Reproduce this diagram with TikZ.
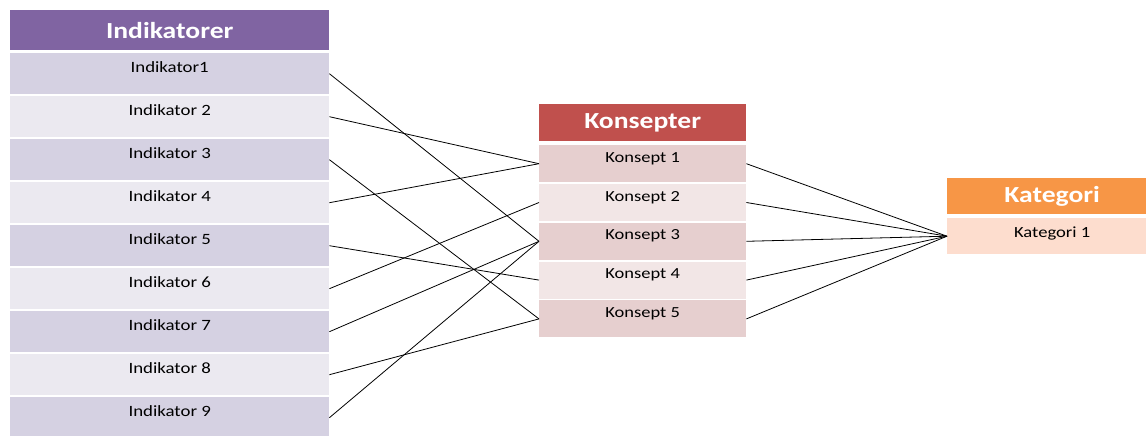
\documentclass[tikz,border=0pt]{standalone}
\usepackage{graphicx}
\usepackage{fontspec}
\setmainfont{Carlito}
% widened lettering used in every box
\newcommand\widetext[1]{\scalebox{1.2}[1]{#1}}
\definecolor{indhead}{HTML}{8064A2}
\definecolor{inddark}{RGB}{213,209,226}
\definecolor{indlight}{RGB}{235,233,240}
\definecolor{konhead}{HTML}{C0504D}
\definecolor{kondark}{RGB}{230,207,207}
\definecolor{konlight}{RGB}{242,230,230}
\definecolor{kathead}{HTML}{F79646}
\definecolor{katrow}{RGB}{253,221,206}
\tikzset{
  headbox/.style={anchor=north west, inner sep=0pt, text=white,
    font=\fontsize{23}{26}\selectfont\bfseries},
  indrow/.style={anchor=north west, inner sep=0pt, minimum width=319pt,
    text height=19pt, text depth=22pt, font=\fontsize{15.7}{18}\selectfont},
  konrow/.style={anchor=north west, inner sep=0pt, minimum width=207pt,
    text height=17pt, text depth=20pt, font=\fontsize{15.4}{18}\selectfont},
  katrow/.style={anchor=north west, inner sep=0pt, minimum width=210pt,
    text height=19pt, text depth=17pt, font=\fontsize{15.5}{18}\selectfont},
  link/.style={draw=black, line width=0.8pt}
}
\begin{document}
\begin{tikzpicture}[x=1pt,y=-1pt]
\useasboundingbox (0,0) rectangle (1146,436);
% Indikatorer column
\node[headbox, fill=indhead, minimum width=319pt, minimum height=40pt] (ih) at (10,10) {\widetext{Indikatorer}};
\node[indrow, fill=inddark] (i1) at (10,53) {\widetext{Indikator1}};
\foreach \i/\c in {2/indlight,3/inddark,4/indlight,5/inddark,6/indlight,7/inddark,8/indlight,9/inddark}
  \node[indrow, fill=\c] (i\i) at (10,{53+43*(\i-1)}) {\widetext{Indikator \i}};
% Konsepter column
\node[headbox, fill=konhead, minimum width=207pt, minimum height=37pt] (kh) at (539,104) {\widetext{Konsepter}};
\foreach \i/\c in {1/kondark,2/konlight,3/kondark,4/konlight,5/kondark}
  \node[konrow, fill=\c] (k\i) at (539,{145+38.8*(\i-1)}) {\widetext{Konsept \i}};
% Kategori column (runs past the right edge)
\node[headbox, fill=kathead, minimum width=210pt, minimum height=36pt] (kth) at (947,178) {\widetext{Kategori}};
\node[katrow, fill=katrow] (c1) at (947,218) {\widetext{Kategori 1}};
% Indikator -> Konsept links
\foreach \a/\b in {1/3,2/1,3/5,4/1,5/4,6/2,7/3,8/5,9/3}
  \draw[link] (i\a.east) -- (k\b.west);
% Konsept -> Kategori links
\foreach \a in {1,...,5}
  \draw[link] (k\a.east) -- (c1.west);
\end{tikzpicture}
\end{document}
